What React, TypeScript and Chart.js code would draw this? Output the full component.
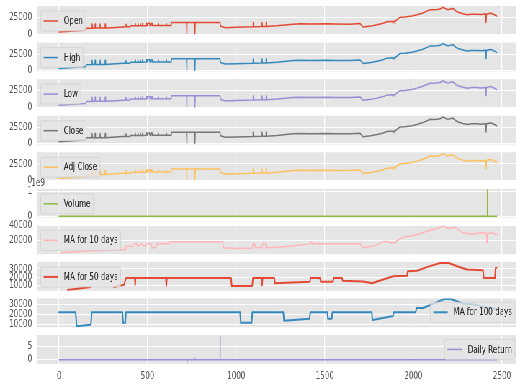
import { useEffect, useRef } from "react";
import { Chart, registerables } from "chart.js";

Chart.register(...registerables);

type Pt = [number, number | null];

// Trading-day index shared by the five price series
const priceX = [
  0, 40, 80, 120, 150, 156, 186, 187, 189, 203,
  204, 206, 231, 232, 234, 260, 261, 263, 300, 361,
  377, 378, 380, 400, 402, 430, 431, 433, 445, 446,
  448, 458, 459, 461, 470, 471, 473, 490, 491, 496,
  497, 500, 501, 512, 513, 518, 519, 525, 526, 560,
  561, 563, 605, 606, 608, 632, 634, 720, 721, 723,
  766, 767, 769, 909, 911, 925, 937, 1000, 1090, 1094,
  1095, 1097, 1145, 1146, 1148, 1167, 1168, 1170, 1230, 1320,
  1360, 1420, 1512, 1560, 1640, 1699, 1716, 1760, 1795, 1830,
  1850, 1868, 1884, 1885, 1887, 1895, 1896, 1898, 1924, 1950,
  1992, 2020, 2049, 2077, 2094, 2110, 2133, 2150, 2167, 2180,
  2195, 2210, 2223, 2240, 2252, 2280, 2302, 2330, 2359, 2380,
  2404, 2409, 2410, 2412, 2432, 2443, 2460, 2470,
];

const openY = [
  3300, 3900, 4600, 5400, 5900, 9000, 9100, 15500, 9100, 9200,
  15500, 9200, 9300, 15500, 9300, 9400, 15500, 9400, 9900, 11000,
  11100, 15200, 11200, 11300, 12600, 12700, 16000, 12700, 12700, 16000,
  12700, 12800, 16200, 12800, 12800, 16000, 12800, 12900, 16300, 16300,
  12900, 12900, 16500, 16500, 13000, 13000, 16300, 16300, 13000, 13100,
  16000, 13100, 13200, 16200, 13200, 13200, 17700, 17700, 500, 17700,
  17700, 500, 17700, 17700, 12300, 11000, 9900, 10300, 11200, 11300,
  17600, 11300, 11500, 17600, 11500, 11600, 17600, 11700, 12600, 15200,
  15700, 15300, 15700, 15300, 15200, 16000, 10800, 12200, 14200, 16500,
  18800, 19100, 19300, 16200, 19300, 19500, 16500, 19800, 25600, 26000,
  27500, 29500, 31900, 35000, 37200, 37000, 37400, 38200, 40800, 39000,
  37200, 38400, 39000, 35000, 33300, 31000, 29400, 30400, 30400, 29800,
  30600, 30200, 17800, 30400, 31800, 31400, 29000, 27500,
];

const highY = [
  3400, 4000, 4700, 5500, 6000, 9200, 9300, 15800, 9300, 9400,
  15800, 9400, 9500, 15800, 9500, 9600, 15800, 9600, 10100, 11200,
  11300, 15500, 11400, 11500, 12800, 12900, 16300, 12900, 12900, 16300,
  12900, 13000, 16500, 13000, 13000, 16300, 13000, 13100, 16600, 16600,
  13100, 13100, 16800, 16800, 13200, 13200, 16600, 16600, 13200, 13300,
  16300, 13300, 13400, 16500, 13400, 13400, 18000, 18000, 600, 18000,
  18000, 600, 18000, 18000, 12500, 11200, 10100, 10500, 11400, 11500,
  17900, 11500, 11700, 17900, 11700, 11800, 17900, 11900, 12800, 15500,
  16000, 15600, 16000, 15600, 15500, 16300, 11000, 12400, 14500, 16800,
  19100, 19400, 19600, 16500, 19600, 19800, 16800, 20100, 26000, 26400,
  27900, 29900, 32300, 35500, 37700, 37500, 37900, 38700, 41300, 39500,
  37700, 38900, 39500, 35500, 33800, 31500, 29800, 30800, 30800, 30200,
  31000, 30600, 18100, 30800, 32200, 31800, 29400, 27900,
];

const lowY = [
  3200, 3800, 4500, 5300, 5800, 8800, 8900, 15200, 8900, 9000,
  15200, 9000, 9100, 15200, 9100, 9200, 15200, 9200, 9700, 10800,
  10900, 14900, 11000, 11100, 12400, 12500, 15700, 12500, 12500, 15700,
  12500, 12600, 15900, 12600, 12600, 15700, 12600, 12700, 16000, 16000,
  12700, 12700, 16200, 16200, 12800, 12800, 16000, 16000, 12800, 12900,
  15700, 12900, 13000, 15900, 13000, 13000, 17400, 17400, 450, 17400,
  17400, 450, 17400, 17400, 12100, 10800, 9700, 10100, 11000, 11100,
  17300, 11100, 11300, 17300, 11300, 11400, 17300, 11500, 12400, 14900,
  15400, 15000, 15400, 15000, 14900, 15700, 10600, 12000, 13900, 16200,
  18500, 18800, 19000, 15900, 19000, 19200, 16200, 19500, 25200, 25600,
  27100, 29100, 31500, 34500, 36700, 36500, 36900, 37700, 40300, 38500,
  36700, 37900, 38500, 34500, 32800, 30500, 29000, 30000, 30000, 29400,
  30200, 29800, 17500, 30000, 31400, 31000, 28600, 27100,
];

const closeY = [
  3300, 3950, 4650, 5450, 5900, 9050, 9100, 15600, 9100, 9200,
  15600, 9200, 9300, 15600, 9300, 9400, 15600, 9400, 9900, 11000,
  11100, 15300, 11200, 11300, 12600, 12700, 16100, 12700, 12700, 16100,
  12700, 12800, 16300, 12800, 12800, 16100, 12800, 12900, 16400, 16400,
  12900, 12900, 16600, 16600, 13000, 13000, 16400, 16400, 13000, 13100,
  16100, 13100, 13200, 16300, 13200, 13200, 17700, 17700, 520, 17700,
  17700, 520, 17700, 17700, 12300, 11000, 9900, 10300, 11200, 11300,
  17700, 11300, 11500, 17700, 11500, 11600, 17700, 11700, 12600, 15300,
  15700, 15300, 15700, 15300, 15200, 16000, 10800, 12200, 14200, 16500,
  18800, 19100, 19300, 16200, 19300, 19500, 16500, 19800, 25600, 26000,
  27500, 29500, 31900, 35000, 37200, 37000, 37400, 38200, 40700, 39000,
  37200, 38400, 39000, 35000, 33300, 31000, 29400, 30400, 30400, 29800,
  30600, 30200, 17900, 30400, 31800, 31400, 29000, 27500,
];

const adjCloseY = [
  3100, 3700, 4400, 5200, 5600, 8700, 8800, 15100, 8800, 8900,
  15100, 8900, 9000, 15100, 9000, 9100, 15100, 9100, 9600, 10700,
  10800, 14800, 10900, 11000, 12200, 12300, 15600, 12300, 12300, 15600,
  12300, 12400, 15800, 12400, 12400, 15600, 12400, 12500, 15900, 15900,
  12500, 12500, 16100, 16100, 12600, 12600, 15900, 15900, 12600, 12700,
  15600, 12700, 12800, 15800, 12800, 12800, 17200, 17200, 500, 17200,
  17200, 500, 17200, 17200, 12000, 10700, 9600, 10000, 10900, 11000,
  17200, 11000, 11200, 17200, 11200, 11300, 17200, 11400, 12300, 14900,
  15300, 15000, 15400, 15000, 14900, 15700, 10600, 12000, 14000, 16300,
  18600, 18900, 19100, 16000, 19100, 19300, 16300, 19600, 25400, 25800,
  27300, 29300, 31700, 34800, 37000, 36800, 37200, 38000, 40600, 38800,
  37000, 38200, 38800, 34800, 33100, 30800, 29200, 30200, 30200, 29600,
  30400, 30000, 17800, 30200, 31600, 31200, 28800, 27300,
];

const volume: Pt[] = [
  [0, 2.0e6], [2416, 2.0e6], [2417, 1.04e9], [2418, 2.0e6], [2470, 2.0e6],
];

const ma10: Pt[] = [
  [9, 4200], [100, 5600], [200, 7000], [300, 7700], [359, 8200], [376, 8300],
  [380, 13000], [418, 13200], [422, 16000], [440, 16000], [442, 13500],
  [455, 13500], [458, 16000], [470, 16000], [473, 13500], [490, 13500],
  [494, 16000], [520, 16000], [526, 10800], [548, 10800], [552, 16000],
  [621, 16000], [625, 18650], [924, 18650], [930, 10800], [1000, 10000],
  [1090, 10500], [1093, 16000], [1105, 16000], [1110, 10800], [1145, 10800],
  [1150, 16000], [1165, 16000], [1170, 11000], [1191, 10800], [1300, 13000],
  [1416, 16000], [1426, 18650], [1430, 16000], [1560, 16300], [1700, 16000],
  [1716, 10800], [1780, 13500], [1829, 18650], [1860, 19000], [1880, 16500],
  [1885, 19000], [1900, 17000], [1905, 20000], [1943, 24800], [2000, 27000],
  [2040, 29500], [2077, 32700], [2110, 35000], [2139, 37000], [2167, 39640],
  [2185, 37500], [2207, 36200], [2235, 37900], [2260, 33500], [2280, 30460],
  [2310, 29500], [2336, 29000], [2365, 30000], [2393, 30460], [2412, 29800],
  [2415, 17340], [2418, 29500], [2449, 30460], [2470, 28360],
];

const ma50: Pt[] = [
  [49, 5100], [180, 8760], [245, null], [310, 8500], [367, 11200],
  [378, 19230], [428, 19230], [430, 11200], [432, 19230], [603, 19230],
  [606, 10300], [609, 19230], [971, 19230], [975, 9700], [1090, 9970],
  [1095, 19230], [1143, 19230], [1146, 10950], [1149, 19230], [1215, 19230],
  [1219, 13140], [1416, 14950], [1420, 19230], [1473, 19230], [1477, 14950],
  [1546, 14950], [1550, 19230], [1597, 19230], [1601, 16060], [1716, 15200],
  [1766, 13140], [1885, 21300], [1964, 21900], [1968, 27400], [2020, 28000],
  [2080, 32500], [2150, 37100], [2200, 37000], [2250, 33000], [2302, 29460],
  [2393, 28370], [2397, 19230], [2460, 19230], [2464, 31400], [2470, 31500],
];

const ma100: Pt[] = [
  [0, 22100], [94, 22100], [100, 8420], [180, 9940], [185, 22100],
  [358, 22100], [362, 11770], [374, 11770], [378, 22100], [1022, 22100],
  [1026, 11770], [1087, 11770], [1091, 22100], [1266, 22100], [1270, 13800],
  [1414, 15820], [1418, 22100], [1514, 22100], [1518, 15820], [1539, 15820],
  [1543, 22100], [1765, 22100], [1769, 14500], [1885, 18550], [1889, 22100],
  [2013, 22100], [2017, 26350], [2055, 26350], [2110, 30500], [2167, 34760],
  [2190, 35400], [2215, 35000], [2280, 30710], [2336, 30000], [2400, 27500],
  [2470, 25500],
];

const dailyReturn: Pt[] = [
  [1, 0], [722, 0], [723, -0.9], [724, 0], [766, 0], [767, 0.6], [768, 0],
  [908, 0], [909, 8.6], [910, 0], [2470, 0],
];

const xTicks = [0, 500, 1000, 1500, 2000, 2500];
const priceTicks = [0, 25000];
const volumeTicks = [0, 1e9];
const ma10Ticks = [20000, 40000];
const ma50Ticks = [10000, 20000, 30000];
const ma100Ticks = [10000, 20000, 30000];
const returnTicks = [0, 5];

// figure geometry (logical px, before the horizontal squeeze)
const SX = 0.7203;
const LOGICAL_W = 720;
const AXIS_W = 51.5;
const X_MIN = -123.5;
const X_MAX = 2593.5;
const PANEL_TOP0 = 6;
const PANEL_STEP = 36.56;
const PANEL_H = 28.8;
const PAD = 12;
const FIG_H = 387;
const FONT = '"DejaVu Sans", sans-serif';

type Loc = "upper left" | "lower right" | "center right";

interface PanelSpec {
  label: string;
  color: string;
  data: Pt[];
  yMin: number;
  yMax: number;
  ticks: number[];
  loc: Loc;
  lw: number;
  div?: number;
  offsetText?: string;
}

const zip = (xs: number[], ys: number[]): Pt[] => xs.map((x, i) => [x, ys[i]]);

const PANELS: PanelSpec[] = [
  { label: "Open", color: "#E24A33", data: zip(priceX, openY), yMin: -1000, yMax: 42800, ticks: priceTicks, loc: "upper left", lw: 1.5 },
  { label: "High", color: "#348ABD", data: zip(priceX, highY), yMin: -1000, yMax: 42800, ticks: priceTicks, loc: "upper left", lw: 1.5 },
  { label: "Low", color: "#988ED5", data: zip(priceX, lowY), yMin: -1000, yMax: 42800, ticks: priceTicks, loc: "upper left", lw: 1.5 },
  { label: "Close", color: "#777777", data: zip(priceX, closeY), yMin: -1000, yMax: 42800, ticks: priceTicks, loc: "upper left", lw: 1.5 },
  { label: "Adj Close", color: "#FBC15E", data: zip(priceX, adjCloseY), yMin: -1000, yMax: 42800, ticks: priceTicks, loc: "upper left", lw: 1.5 },
  { label: "Volume", color: "#8EBA42", data: volume, yMin: -0.052e9, yMax: 1.092e9, ticks: volumeTicks, loc: "upper left", lw: 1.5, div: 1e9, offsetText: "1e9" },
  { label: "MA for 10 days", color: "#FFB5B8", data: ma10, yMin: 2500, yMax: 40300, ticks: ma10Ticks, loc: "upper left", lw: 1.5 },
  { label: "MA for 50 days", color: "#E24A33", data: ma50, yMin: 4250, yMax: 38350, ticks: ma50Ticks, loc: "upper left", lw: 2 },
  { label: "MA for 100 days", color: "#348ABD", data: ma100, yMin: 7410, yMax: 35790, ticks: ma100Ticks, loc: "lower right", lw: 2 },
  { label: "Daily Return", color: "#988ED5", data: dailyReturn, yMin: -1.46, yMax: 9.08, ticks: returnTicks, loc: "center right", lw: 1.5 },
];

function drawLegend(chart: Chart, spec: PanelSpec) {
  const { ctx, chartArea: a } = chart;
  ctx.save();
  ctx.font = `10px ${FONT}`;
  const tw = ctx.measureText(spec.label).width;
  const bw = 4 + 20 + 8 + tw + 4;
  const bh = 20;
  let bx = a.left + 5;
  let by = a.top + 5;
  if (spec.loc === "lower right") {
    bx = a.right - 5 - bw;
    by = a.bottom - 5 - bh;
  } else if (spec.loc === "center right") {
    bx = a.right - 5 - bw;
    by = (a.top + a.bottom) / 2 - bh / 2;
  }
  ctx.beginPath();
  ctx.roundRect(bx, by, bw, bh, 2);
  ctx.fillStyle = "rgba(229,229,229,0.8)";
  ctx.fill();
  ctx.strokeStyle = "rgba(204,204,204,0.8)";
  ctx.lineWidth = 0.8;
  ctx.stroke();
  const cy = by + bh / 2;
  ctx.beginPath();
  ctx.moveTo(bx + 4, cy);
  ctx.lineTo(bx + 24, cy);
  ctx.strokeStyle = spec.color;
  ctx.lineWidth = spec.lw;
  ctx.stroke();
  ctx.fillStyle = "#222222";
  ctx.textAlign = "left";
  ctx.textBaseline = "middle";
  ctx.fillText(spec.label, bx + 32, cy + 0.5);
  ctx.restore();
}

function Panel({ spec, index, last }: { spec: PanelSpec; index: number; last: boolean }) {
  const ref = useRef<HTMLCanvasElement>(null);
  const top = PANEL_TOP0 + index * PANEL_STEP;
  const canvasTop = Math.floor(top) - PAD;
  const padTop = top - canvasTop;
  const below = last ? FIG_H - (top + PANEL_H) : PAD;
  const H = Math.ceil(padTop + PANEL_H + below);
  const axisH = H - padTop - PANEL_H;

  useEffect(() => {
    if (!ref.current) return;
    const chart = new Chart(ref.current, {
      type: "line",
      data: {
        datasets: [
          {
            label: spec.label,
            data: spec.data.map(([x, y]) => ({ x, y })),
            borderColor: spec.color,
            borderWidth: spec.lw,
            pointRadius: 0,
            tension: 0,
            fill: false,
            spanGaps: false,
            borderJoinStyle: "round",
            borderCapStyle: "round",
          },
        ],
      },
      options: {
        animation: false,
        responsive: false,
        events: [],
        layout: { padding: { top: padTop, bottom: 0, left: 0, right: 0 }, autoPadding: false },
        scales: {
          x: {
            type: "linear",
            min: X_MIN,
            max: X_MAX,
            afterBuildTicks: (s: any) => {
              s.ticks = xTicks.map((v) => ({ value: v }));
            },
            afterFit: (s: any) => {
              s.height = axisH;
              s.paddingLeft = 0;
              s.paddingRight = 0;
            },
            ticks: {
              display: last,
              autoSkip: false,
              maxRotation: 0,
              padding: 7,
              color: "#555555",
              font: { family: FONT, size: 10 },
              callback: (v: any) => String(v),
            },
            grid: { color: "#ffffff", lineWidth: 1.2, drawTicks: false },
            border: { display: false },
          },
          y: {
            type: "linear",
            min: spec.yMin,
            max: spec.yMax,
            afterBuildTicks: (s: any) => {
              s.ticks = spec.ticks.map((v) => ({ value: v }));
            },
            afterFit: (s: any) => {
              s.width = AXIS_W;
              s.paddingTop = 0;
              s.paddingBottom = 0;
            },
            ticks: {
              autoSkip: false,
              padding: 7,
              color: "#555555",
              font: { family: FONT, size: 10 },
              callback: (v: any) => String(spec.div ? Number(v) / spec.div : v),
            },
            grid: { color: "#ffffff", lineWidth: 1, drawTicks: false },
            border: { display: false },
          },
        },
        plugins: {
          legend: { display: false },
          tooltip: { enabled: false },
        },
      },
      plugins: [
        {
          id: "panelDecor",
          beforeDraw(c: Chart) {
            const { ctx, chartArea: a } = c;
            ctx.save();
            ctx.fillStyle = "#E5E5E5";
            ctx.fillRect(a.left, a.top, a.right - a.left, a.bottom - a.top);
            ctx.restore();
          },
          afterDatasetsDraw(c: Chart) {
            drawLegend(c, spec);
            if (spec.offsetText) {
              const { ctx, chartArea: a } = c;
              ctx.save();
              ctx.font = `10px ${FONT}`;
              ctx.fillStyle = "#555555";
              ctx.textAlign = "left";
              ctx.textBaseline = "alphabetic";
              ctx.fillText(spec.offsetText, a.left - 8, a.top - 3);
              ctx.restore();
            }
          },
        },
      ],
    } as any);
    return () => chart.destroy();
  }, []);

  return (
    <canvas
      ref={ref}
      width={LOGICAL_W}
      height={H}
      style={{ position: "absolute", left: 0, top: canvasTop, width: LOGICAL_W, height: H }}
    />
  );
}

export default function App() {
  return (
    <div
      style={{
        position: "fixed",
        left: 0,
        top: 0,
        width: 516,
        height: FIG_H,
        overflow: "hidden",
        background: "#ffffff",
      }}
    >
      <div
        style={{
          position: "absolute",
          left: 0,
          top: 0,
          width: LOGICAL_W,
          height: FIG_H,
          transform: `scaleX(${SX})`,
          transformOrigin: "0 0",
        }}
      >
        {PANELS.map((p, i) => (
          <Panel key={p.label} spec={p} index={i} last={i === PANELS.length - 1} />
        ))}
      </div>
    </div>
  );
}
